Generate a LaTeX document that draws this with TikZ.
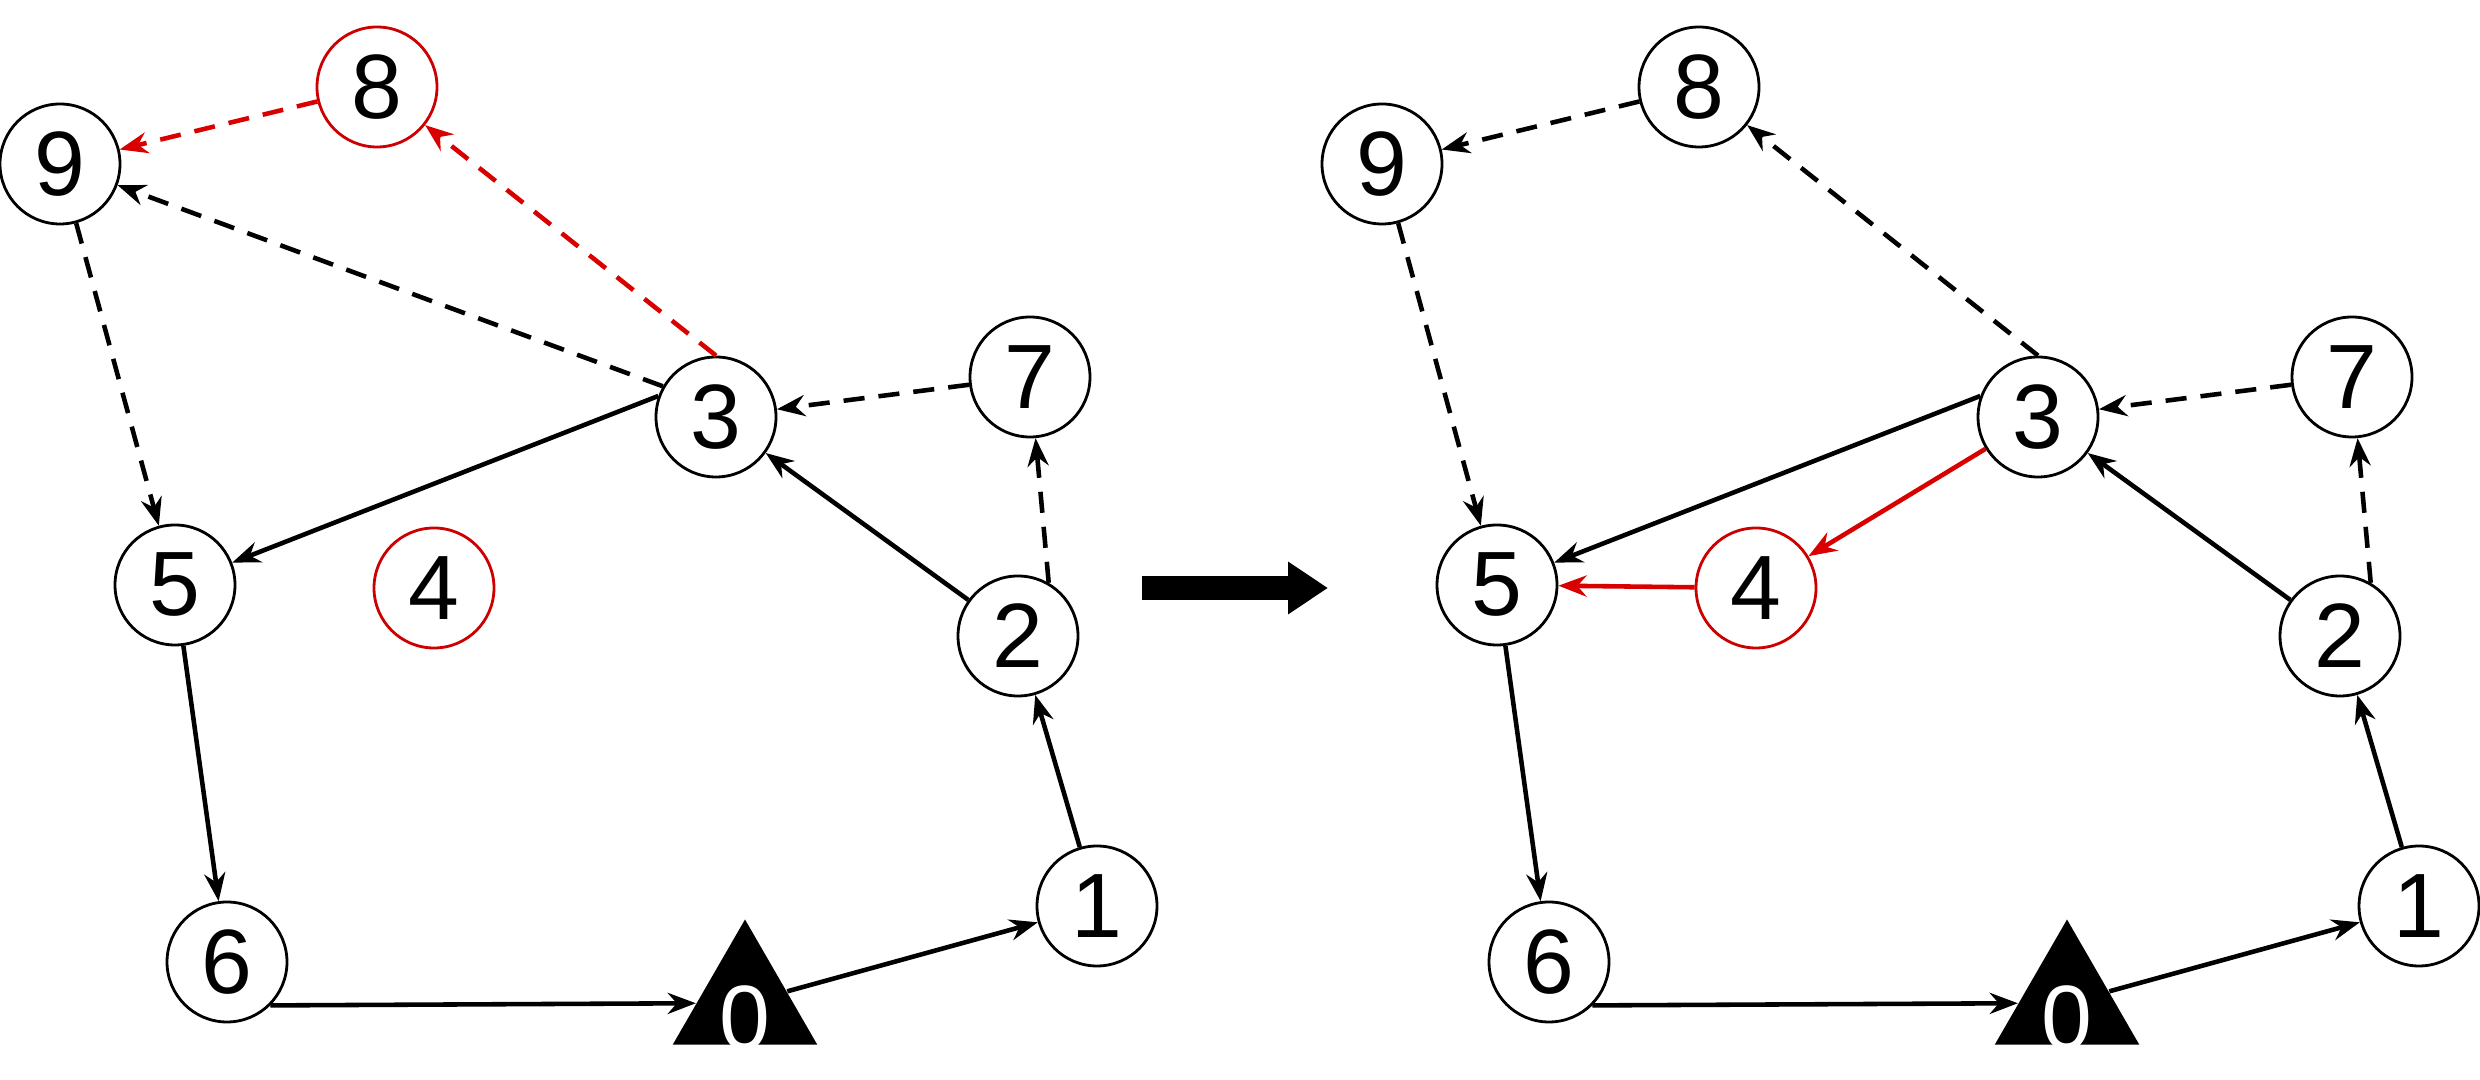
\documentclass[tikz,border=0pt]{standalone}
\usepackage{fontspec}
\setmainfont{Liberation Sans}
\usetikzlibrary{shapes.geometric,arrows.meta}
\tikzset{
    vertex/.style={circle, draw, line width=0.8pt, minimum size=1.2cm, inner sep=0pt, font=\fontsize{26}{28}\selectfont},
    newvertex/.style={vertex, draw=red!80!black},
    depot/.style={regular polygon, regular polygon sides=3, fill=black, minimum size=1.67cm, inner sep=0pt},
    edge/.style={line width=1.3pt, -{Stealth[length=8pt,width=6pt]}},
    dashedge/.style={edge, dash pattern=on 6pt off 4pt},
}
\begin{document}
\begin{tikzpicture}
    \useasboundingbox (0,0) rectangle (24.8,10.8);

    % Knoten beider Touren (links vorher, rechts nachher)
    \foreach \p/\dx in {L/0, R/13.22} {
        \begin{scope}[xshift=\dx cm]
            \node[vertex] (\p9) at (0.60, 9.16) {9};
            \node[vertex] (\p3) at (7.16, 6.63) {3};
            \node[vertex] (\p7) at (10.30, 7.03) {7};
            \node[vertex] (\p5) at (1.75, 4.95) {5};
            \node[vertex] (\p2) at (10.18, 4.44) {2};
            \node[vertex] (\p6) at (2.27, 1.18) {6};
            \node[vertex] (\p1) at (10.97, 1.74) {1};
            \node[depot] (\p0) at (7.45, 0.77) {};
            \node[white, font=\fontsize{26}{28}\selectfont] (\p0t) at (7.45, 0.62) {0};
        \end{scope}
    }
    \node[newvertex] (L8) at (3.77, 9.93) {8};
    \node[newvertex] (L4) at (4.34, 4.92) {4};
    \node[vertex] (R8) at (16.99, 9.93) {8};
    \node[newvertex] (R4) at (17.56, 4.92) {4};

    % linke Tour
    \draw[dashedge, red!85!black] (L8) -- (L9);
    \draw[dashedge, red!85!black] (L3.north) -- (L8);
    \draw[dashedge] (L3.150) -- (L9);
    \draw[dashedge] (L9) -- (L5);
    \draw[dashedge] (L7) -- (L3);
    \draw[dashedge] (L2.60) -- (L7);
    \draw[edge] (L3.160) -- (L5);
    \draw[edge] (L2) -- (L3);
    \draw[edge] (L1) -- (L2);
    \draw[edge] (L0) -- (L1);
    \draw[edge] (L6.south east) -- (L0);
    \draw[edge] (L5) -- (L6);

    % Pfeil dazwischen
    \coordinate (a) at (11.42, 4.92);
    \coordinate (b) at (13.28, 4.92);
    \draw[line width=0.24cm, -{Triangle[length=0.4cm,width=0.5cm]}] (a) -- (b);

    % rechte Tour
    \draw[dashedge] (R8) -- (R9);
    \draw[dashedge] (R3.north) -- (R8);
    \draw[dashedge] (R9) -- (R5);
    \draw[dashedge] (R7) -- (R3);
    \draw[dashedge] (R2.60) -- (R7);
    \draw[edge] (R3.160) -- (R5);
    \draw[edge, red!85!black] (R3) -- (R4);
    \draw[edge, red!85!black] (R4) -- (R5);
    \draw[edge] (R2) -- (R3);
    \draw[edge] (R1) -- (R2);
    \draw[edge] (R0) -- (R1);
    \draw[edge] (R6.south east) -- (R0);
    \draw[edge] (R5) -- (R6);
\end{tikzpicture}
\end{document}
